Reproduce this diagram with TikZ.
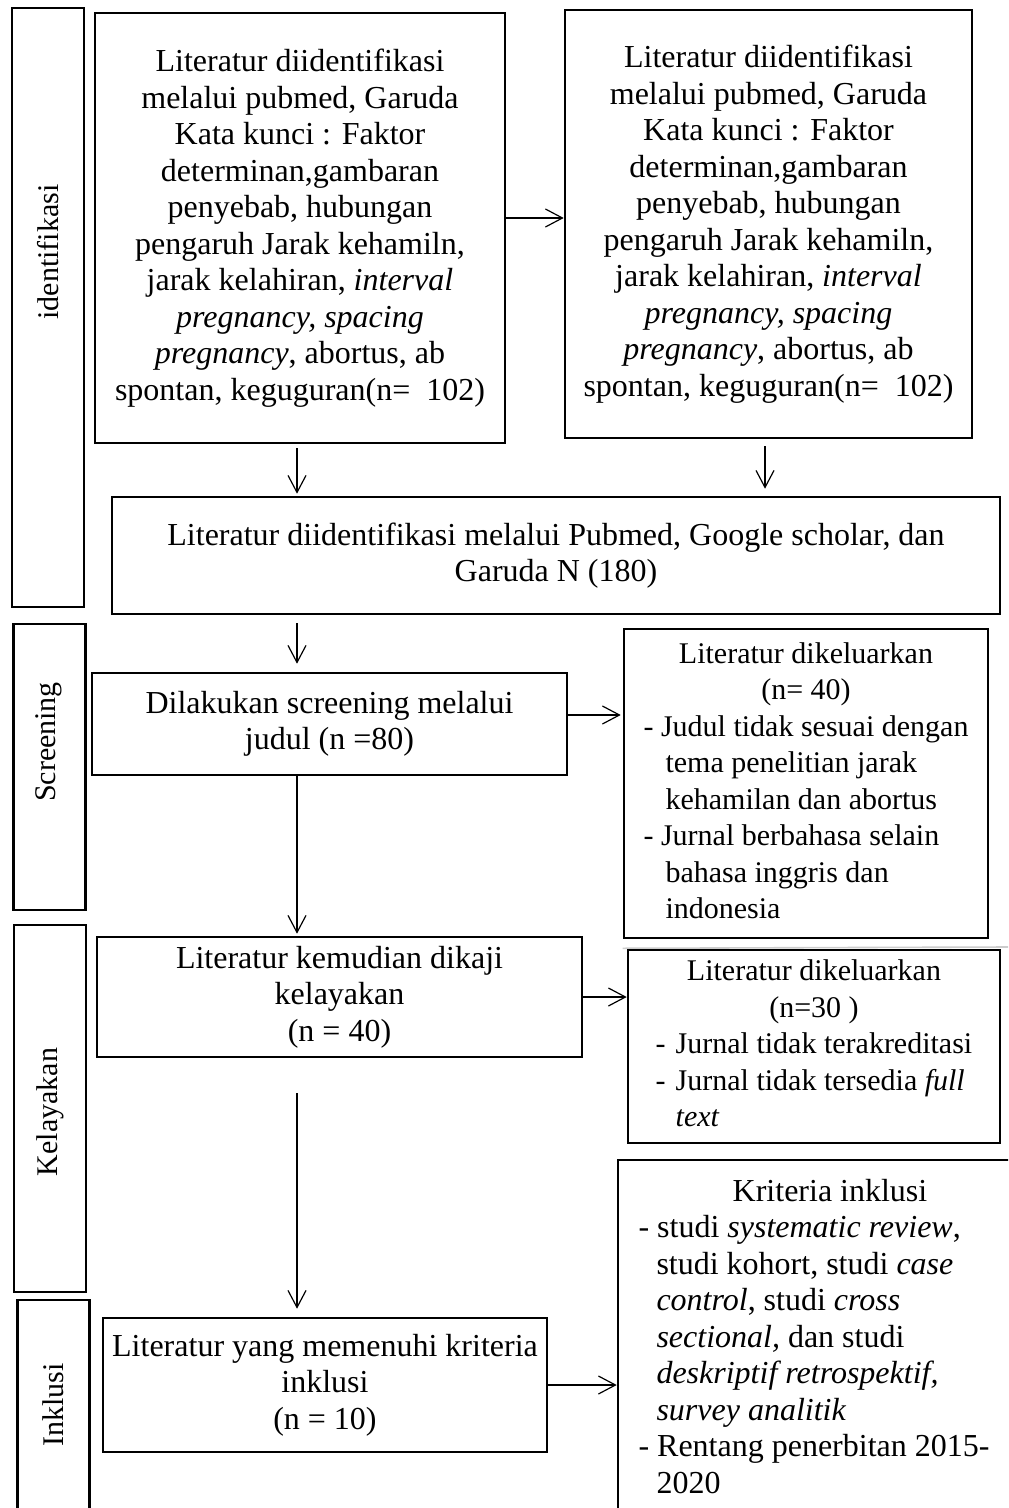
\documentclass[tikz,border=0pt]{standalone}
\usepackage{fontspec}
\setmainfont{Liberation Serif}
\usepackage{tikz}
\usetikzlibrary{arrows.meta}

\newcommand{\sumberlit}{Literatur diidentifikasi\\
  melalui pubmed, Garuda\\
  Kata kunci : Faktor\\
  determinan,gambaran\\
  penyebab, hubungan\\
  pengaruh Jarak kehamiln,\\
  jarak kelahiran, \textit{interval}\\
  \textit{pregnancy, spacing}\\
  \textit{pregnancy}, abortus, ab\\
  spontan, keguguran(n=~~102)}

\begin{document}
\begin{tikzpicture}[x=0.5pt,y=-0.5pt,
    every node/.style={font=\fontsize{16}{18.25}\selectfont, inner sep=0pt},
    box/.style={draw, line width=1.3pt, align=center},
    exbox/.style={box, font=\fontsize{15}{18.25}\selectfont},
    lblbox/.style={draw, line width=1.3pt, minimum width=36pt},
    lbltxt/.style={rotate=90, font=\fontsize{15}{18.25}\selectfont},
    arr/.style={line width=0.6pt, -{Straight Barb[length=8.5pt,width=9pt,line width=0.6pt]}}]
       \useasboundingbox (0,0) rectangle (1008,1508);
       \clip (0,0) rectangle (1008,1508);

       % tahap (left column)
       \node[lblbox, minimum height=299.5pt](idBox) at (48,307.5) {};
       \node[lbltxt](idTxt) at (48,252) {identifikasi};
       \node[lblbox, minimum height=143pt](scrLbl) at (49.5,767) {};
       \node[lbltxt](scrTxt) at (49,742) {Screening};
       \node[lblbox, minimum height=183.5pt](kelLbl) at (50,1108.5) {};
       \node[lbltxt](kelTxt) at (50,1112) {Kelayakan};
       \node[lblbox, minimum height=120pt](inkLbl) at (53.5,1420) {};
       \node[lbltxt](inkTxt) at (53,1405) {Inklusi};

       % identifikasi
       \node[box, minimum width=205pt, minimum height=215pt](topL) at (300,228) {\sumberlit};
       \node[box, minimum width=203.5pt, minimum height=214pt](topR) at (768.5,224) {\sumberlit};
       \node[box, minimum width=444pt, minimum height=58.5pt](midBox) at (556,555.5)
            {Literatur diidentifikasi melalui Pubmed, Google scholar, dan\\Garuda N (180)};

       \draw[arr] ([yshift=5pt]topL.east) -- ([yshift=5pt]topL.east -| topR.west);
       \draw[arr, shorten <=2pt, shorten >=1pt] ([xshift=-1.5pt]topL.south) -- ([xshift=-1.5pt]topL.south |- midBox.north);
       \draw[arr, shorten <=3.5pt, shorten >=3.5pt] ([xshift=-1.75pt]topR.south) -- ([xshift=-1.75pt]topR.south |- midBox.north);

       % screening
       \node[box, minimum width=237.5pt, minimum height=51pt](scrBox) at (329.5,724)
            {Dilakukan screening melalui\\judul (n =80)};
       \node[exbox, minimum width=182pt, minimum height=154.5pt](excl1) at (806,783.5)
            {\begin{tabular}{@{}l@{}}
             \multicolumn{1}{@{}c@{}}{Literatur dikeluarkan}\\
             \multicolumn{1}{@{}c@{}}{(n= 40)}\\
             - Judul tidak sesuai dengan\\
             \hspace*{11pt}tema penelitian jarak\\
             \hspace*{11pt}kehamilan dan abortus\\
             - Jurnal berbahasa selain\\
             \hspace*{11pt}bahasa inggris dan\\
             \hspace*{11pt}indonesia
             \end{tabular}};
       \coordinate (grR) at (1008,947);
       \draw[gray!40, line width=0.8pt] ([yshift=-4.5pt]excl1.south west) -- (grR);

       \draw[arr, shorten <=4pt, shorten >=4pt] ([xshift=-16.25pt]scrBox.north |- midBox.south) -- ([xshift=-16.25pt]scrBox.north);
       \draw[arr, shorten >=1pt] ([yshift=4.5pt]scrBox.east) -- ([yshift=4.5pt]scrBox.east -| excl1.west);

       % kelayakan
       \node[box, minimum width=242.5pt, minimum height=60pt](kelBox) at (339.5,997)
            {Literatur kemudian dikaji\\kelayakan\\(n = 40)};
       \node[exbox, minimum width=186pt, minimum height=96.5pt](excl2) at (814,1046.5)
            {\begin{tabular}{@{}l@{}}
             \multicolumn{1}{@{}c@{}}{Literatur dikeluarkan}\\
             \multicolumn{1}{@{}c@{}}{(n=30 )}\\
             -\hspace*{5pt}Jurnal tidak terakreditasi\\
             -\hspace*{5pt}Jurnal tidak tersedia \textit{full}\\
             \hspace*{10pt}\textit{text}
             \end{tabular}};

       \draw[arr, shorten >=1pt] ([xshift=-16.25pt]scrBox.south) -- ([xshift=-16.25pt]scrBox.south |- kelBox.north);
       \draw[arr] (kelBox.east) -- (kelBox.east -| excl2.west);

       % inklusi
       \node[box, minimum width=222pt, minimum height=67pt](incBox) at (325,1385)
            {Literatur yang memenuhi kriteria\\inklusi\\(n = 10)};
       \node[box, minimum width=196pt, minimum height=180pt](critBox) at (814,1340)
            {\begin{tabular}{@{}l@{}}
             \multicolumn{1}{@{}c@{}}{\hspace*{16pt}Kriteria inklusi}\\
             - studi \textit{systematic review},\\
             \hspace*{9pt}studi kohort, studi \textit{case}\\
             \hspace*{9pt}\textit{control}, studi \textit{cross}\\
             \hspace*{9pt}\textit{sectional,} dan studi\\
             \hspace*{9pt}\textit{deskriptif retrospektif,}\\
             \hspace*{9pt}\textit{survey analitik}\\
             - Rentang penerbitan 2015-\\
             \hspace*{9pt}2020
             \end{tabular}};

       \draw[arr, shorten <=17.5pt, shorten >=4pt] ([xshift=-21.25pt]kelBox.south) -- ([xshift=-21.25pt]kelBox.south |- incBox.north);
       \draw[arr] (incBox.east) -- (incBox.east -| critBox.west);

\end{tikzpicture}
\end{document}
